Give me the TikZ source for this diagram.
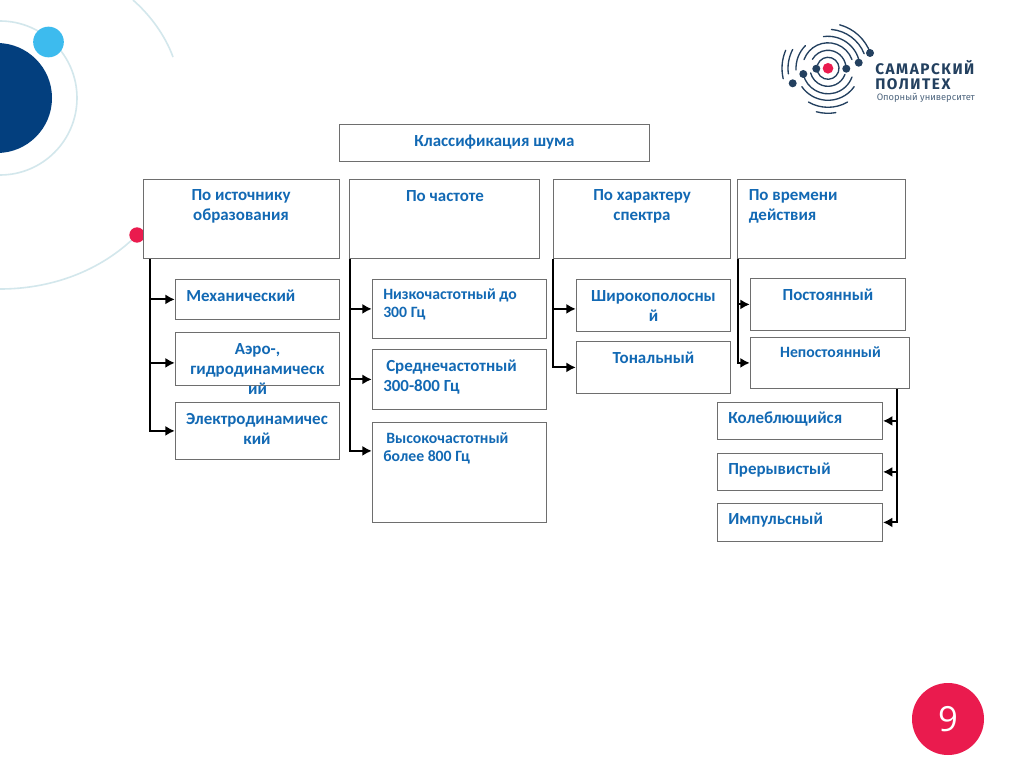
\documentclass[tikz,border=0pt]{standalone}
\usepackage{fontspec}
\setmainfont{Carlito}
\newfontfamily\logofont[LetterSpace=10]{Fira Sans}
\newfontfamily\logosmall{Fira Sans}
\newfontfamily\numfont{Open Sans}
\usetikzlibrary{calc,arrows.meta}
\definecolor{txtblue}{HTML}{1269B4}
\definecolor{boxgray}{HTML}{6E6E6E}
\definecolor{ring}{HTML}{D3E7EC}
\definecolor{navy}{HTML}{033F7E}
\definecolor{sky}{HTML}{3DBBEE}
\definecolor{rose}{HTML}{EA1B4E}
\definecolor{logonavy}{HTML}{23405F}
\newcommand{\bigfont}{\bfseries\fontsize{12.7pt}{15pt}\selectfont}
\newcommand{\smallfont}{\bfseries\fontsize{11.8pt}{14pt}\selectfont}
\tikzset{
  boxn/.style={draw=boxgray,line width=0.75pt,fill=white,inner sep=0pt},
  txt/.style={text=txtblue,font=\bigfont,align=center,inner sep=0pt},
  stxt/.style={txt,font=\smallfont},
  conn/.style={draw=black,line width=1.5pt,-{Latex[length=7pt,width=7.5pt]}},
  ringarc/.style={draw=ring,line width=1.2pt},
  logoarc/.style={draw=logonavy,line width=1pt,line cap=round},
  logodot/.style={circle,fill=logonavy,minimum size=6pt,inner sep=0pt},
}
\newcommand{\bx}[5]{\node[boxn,minimum width={(#4-#2-0.8)*0.75pt},minimum height={(#5-#3-0.8)*0.75pt}] (#1) at ({(#2+#4)/2-0.1},{(#3+#5)/2-0.1}) {};}
\newcommand{\tx}[4]{\node[txt] (#1) at (#2,#3) {#4};}
\newcommand{\lgarc}[3]{\draw[logoarc] (#2:#1) arc[start angle=#2,end angle=#3,radius=#1];}
\begin{document}
\begin{tikzpicture}[x=0.75pt,y=-0.75pt]
\useasboundingbox (0,0) rectangle (1024,767);
\fill[white] (0,0) rectangle (1024,767);
\begin{scope}
\clip (0,0) rectangle (1024,767);
\draw[ringarc] (0,98) circle[radius=77];
\fill[navy] (-3,98) circle[radius=55];
\draw[ringarc] (137,235) .. controls (100,272) and (50,289) .. (0,289);
\draw[ringarc] (133,0) .. controls (150,15) and (165,35) .. (173,57);
\end{scope}
\node[circle,fill=sky,minimum size=23pt,inner sep=0pt] (skydot) at (48.5,42) {};
\node[circle,fill=rose,minimum size=11.5pt,inner sep=0pt] (rosedot) at (137,235) {};
\node[circle,fill=rose,minimum size=54pt,inner sep=0pt,text=white,font=\numfont\fontsize{26pt}{28pt}\selectfont] (pagenum) at (948,719) {9};
% logo
\begin{scope}[shift={(828,68.3)}]
\lgarc{11}{-160}{160}
\lgarc{18}{-5}{-150}
\lgarc{18}{20}{165}
\lgarc{25.5}{165}{20}
\lgarc{25.5}{-160}{-20}
\lgarc{32}{-10}{-98}
\lgarc{32}{35}{145}
\lgarc{32}{177}{225}
\lgarc{39}{-22}{-85}
\lgarc{39}{60}{120}
\lgarc{40}{172}{208}
\lgarc{45}{-20}{-75}
\lgarc{45}{80}{105}
\lgarc{46}{167}{203}
\node[logodot] (d1) at (-11.7,0.4) {};
\node[logodot] (d2) at (18.3,0.4) {};
\node[logodot] (d3) at (30.7,-5.6) {};
\node[logodot] (d4) at (42,-15.3) {};
\node[logodot] (d5) at (-24.7,5.7) {};
\node[logodot] (d6) at (-35.3,15) {};
\node[circle,fill=rose,minimum size=8pt,inner sep=0pt] (d0) at (0,0) {};
\end{scope}
\node[anchor=west,inner sep=0pt,text=logonavy,font=\logofont\bfseries\fontsize{11.5pt}{12pt}\selectfont] (lg1) at (875,68) {САМАРСКИЙ};
\node[anchor=west,inner sep=0pt,text=logonavy,font=\logofont\bfseries\fontsize{11.5pt}{12pt}\selectfont] (lg2) at (875,84) {ПОЛИТЕХ};
\node[anchor=west,inner sep=0pt,text=logonavy!80,font=\logosmall\fontsize{7pt}{8pt}\selectfont] (lg3) at (876.5,97.5) {Опорный университет};
% boxes
\bx{title}{339}{124}{650}{162}
\bx{src}{143}{179}{340}{259}
\bx{frq}{349}{179}{540}{259}
\bx{spc}{553}{179}{731}{259}
\bx{tim}{737}{179}{906}{259}
\bx{mech}{175}{279}{340}{320}
\bx{aero}{175}{332}{340}{386}
\bx{elec}{175}{402}{340}{460}
\bx{low}{372}{279}{547}{339}
\bx{mid}{372}{349}{547}{410}
\bx{high}{372}{422}{547}{523}
\bx{wide}{576}{279}{731}{332}
\bx{tone}{576}{341}{731}{394}
\bx{const}{750}{278}{906}{331}
\bx{nonc}{750}{337}{910}{389}
\bx{osc}{717}{402}{883}{440}
\bx{intr}{717}{453}{883}{491}
\bx{imp}{717}{503}{883}{542}
% connectors
\draw[conn] ($(src.south west)+(7,0)$) |- (mech.west);
\draw[conn] ($(src.south west)+(7,0)$) |- ($(aero.west)+(0,4)$);
\draw[conn] ($(src.south west)+(7,0)$) |- (elec.west);
\draw[conn] ($(frq.south west)+(1,0)$) |- (low.west);
\draw[conn] ($(frq.south west)+(1,0)$) |- (mid.west);
\draw[conn] ($(frq.south west)+(1,0)$) |- ($(high.west)+(0,-21.5)$);
\draw[conn] (spc.south west) |- ($(wide.west)+(0,3.5)$);
\draw[conn] (spc.south west) |- (tone.west);
\draw[conn] ($(tim.south west)+(1,0)$) |- (const.west);
\draw[conn] ($(tim.south west)+(1,0)$) |- (nonc.west);
\draw[conn] ($(nonc.south east)+(-13.5,0)$) |- (osc.east);
\draw[conn] ($(nonc.south east)+(-13.5,0)$) |- (intr.east);
\draw[conn] ($(nonc.south east)+(-13.5,0)$) |- (imp.east);
% text
\tx{ttitle}{494.5}{142}{Классификация шума}
\tx{tsrc}{241}{206}{По источнику\\образования}
\tx{tfrq}{445}{196}{По частоте}
\tx{tspc}{642}{206}{По характеру\\спектра}
\node[txt,anchor=west,align=left] (ttim) at (748.5,206) {По времени\\действия};
\node[txt,anchor=west] (tmech) at (186,296) {Механический};
\tx{taero}{257.5}{369}{Аэро-,\\гидродинамическ\\ий}
\tx{telec}{257}{429}{Электродинамичес\\кий}
\node[stxt,anchor=west,align=left] (tlow) at (383,304.5) {Низкочастотный до\\300 Гц};
\node[txt,anchor=west] (tmid) at (386,367) {Среднечастотный};
\node[txt,anchor=west] (tmid3) at (383,387) {300-800 Гц};
\node[stxt,anchor=west] (thigh) at (386,438) {Высокочастотный};
\node[stxt,anchor=west] (thigh2) at (383,457) {более 800 Гц};
\tx{twide}{653.5}{306}{Широкополосны\\й}
\tx{ttone}{653.5}{358}{Тональный}
\tx{tconst}{828}{295}{Постоянный}
\node[stxt] (tnonc) at (830.5,352.5) {Непостоянный};
\node[txt,anchor=west] (tosc) at (728,419.5) {Колеблющийся};
\node[txt,anchor=west] (tintr) at (728,470) {Прерывистый};
\node[txt,anchor=west] (timp) at (728,520.5) {Импульсный};
\end{tikzpicture}
\end{document}
